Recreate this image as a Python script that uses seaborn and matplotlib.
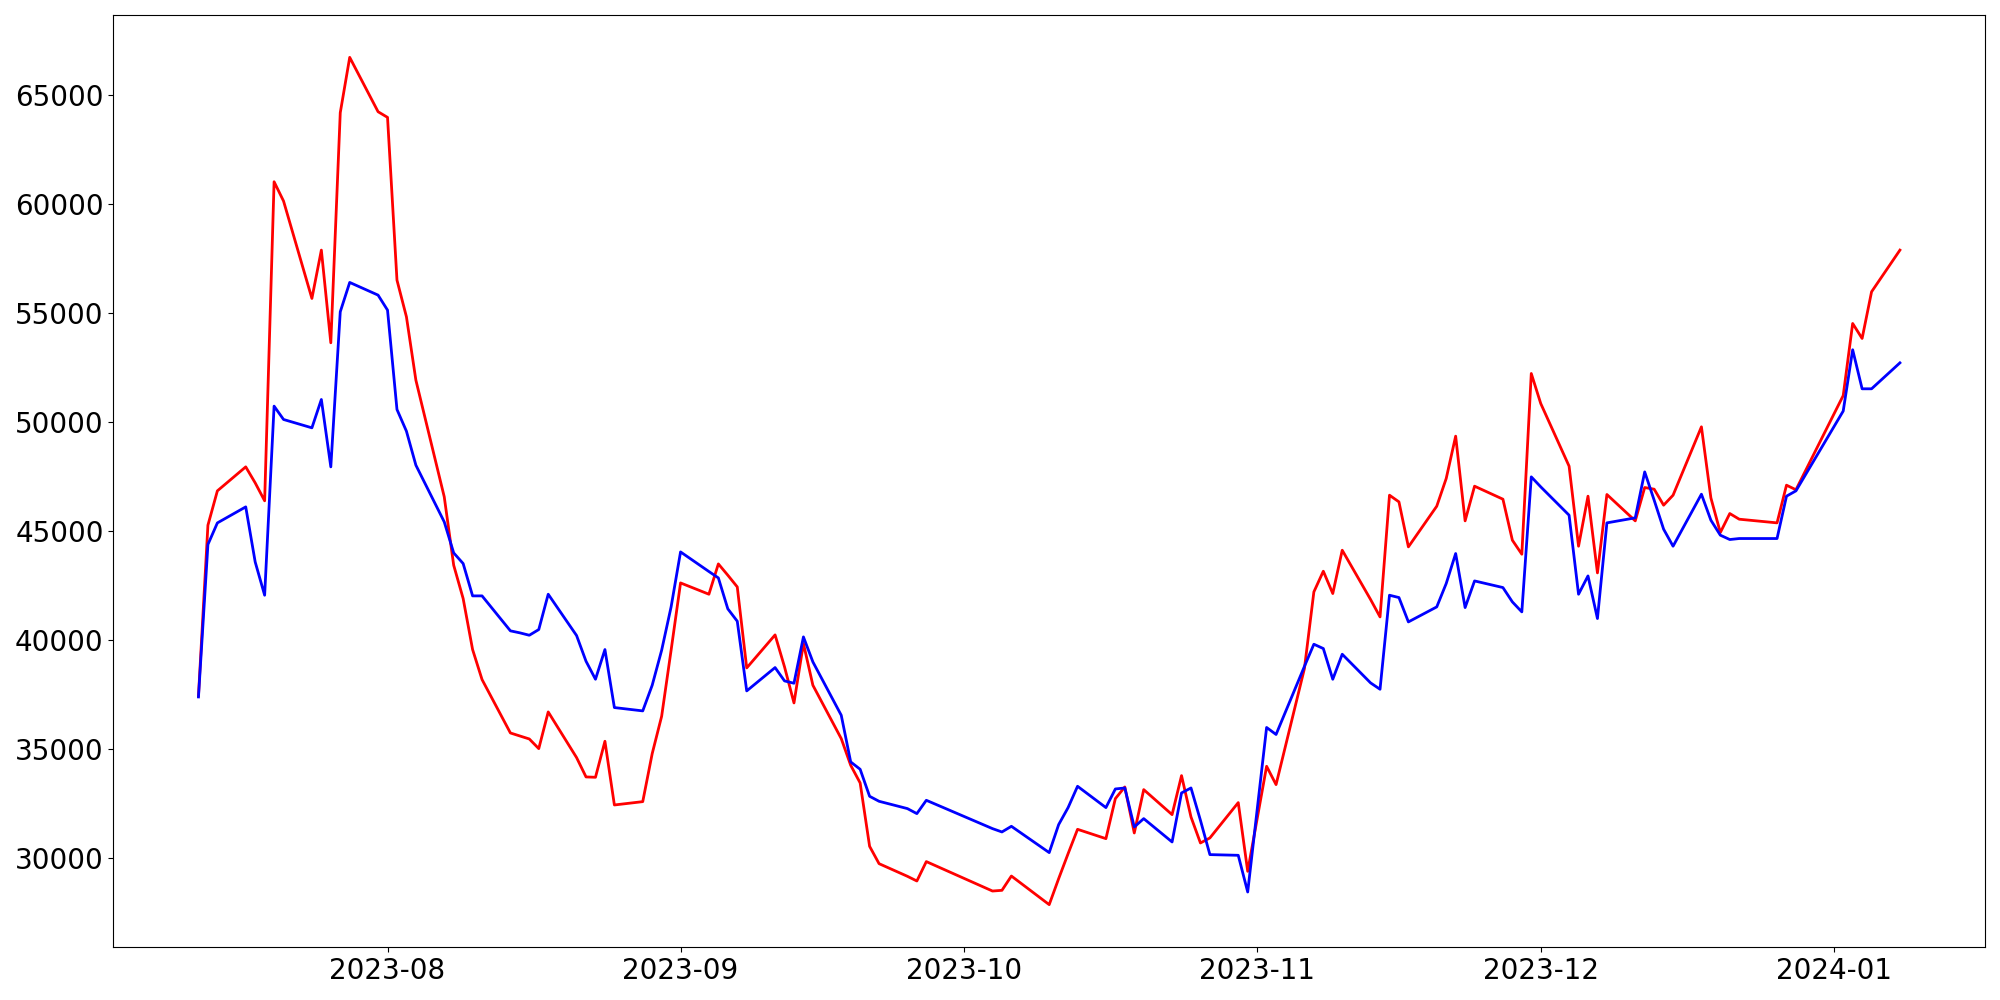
import matplotlib
matplotlib.use("Agg")
import matplotlib.pyplot as plt
import matplotlib.dates as mdates
import seaborn as sns
import pandas as pd

dates = [
    "2023-07-12", "2023-07-13", "2023-07-14", "2023-07-17", "2023-07-18", "2023-07-19",
    "2023-07-20", "2023-07-21", "2023-07-24", "2023-07-25", "2023-07-26", "2023-07-27",
    "2023-07-28", "2023-07-31", "2023-08-01", "2023-08-02", "2023-08-03", "2023-08-04",
    "2023-08-07", "2023-08-08", "2023-08-09", "2023-08-10", "2023-08-11", "2023-08-14",
    "2023-08-15", "2023-08-16", "2023-08-17", "2023-08-18", "2023-08-21", "2023-08-22",
    "2023-08-23", "2023-08-24", "2023-08-25", "2023-08-28", "2023-08-29", "2023-08-30",
    "2023-08-31", "2023-09-01", "2023-09-04", "2023-09-05", "2023-09-06", "2023-09-07",
    "2023-09-08", "2023-09-11", "2023-09-12", "2023-09-13", "2023-09-14", "2023-09-15",
    "2023-09-18", "2023-09-19", "2023-09-20", "2023-09-21", "2023-09-22", "2023-09-25",
    "2023-09-26", "2023-09-27", "2023-10-04", "2023-10-05", "2023-10-06", "2023-10-10",
    "2023-10-11", "2023-10-12", "2023-10-13", "2023-10-16", "2023-10-17", "2023-10-18",
    "2023-10-19", "2023-10-20", "2023-10-23", "2023-10-24", "2023-10-25", "2023-10-26",
    "2023-10-27", "2023-10-30", "2023-10-31", "2023-11-02", "2023-11-03", "2023-11-06",
    "2023-11-07", "2023-11-08", "2023-11-09", "2023-11-10", "2023-11-13", "2023-11-14",
    "2023-11-15", "2023-11-16", "2023-11-17", "2023-11-20", "2023-11-21", "2023-11-22",
    "2023-11-23", "2023-11-24", "2023-11-27", "2023-11-28", "2023-11-29", "2023-11-30",
    "2023-12-01", "2023-12-04", "2023-12-05", "2023-12-06", "2023-12-07", "2023-12-08",
    "2023-12-11", "2023-12-12", "2023-12-13", "2023-12-14", "2023-12-15", "2023-12-18",
    "2023-12-19", "2023-12-20", "2023-12-21", "2023-12-22", "2023-12-26", "2023-12-27",
    "2023-12-28", "2024-01-02", "2024-01-03", "2024-01-04", "2024-01-05", "2024-01-08",
]

red_values = [
    37450, 45275, 46850, 47950, 47216, 46394,
    61024, 60138, 55673, 57890, 53639, 64190,
    66728, 64235, 63976, 56514, 54832, 51927,
    46578, 43440, 41913, 39573, 38197, 35748,
    35610, 35473, 35030, 36713, 34619, 33732,
    33716, 35367, 32446, 32599, 34800, 36514,
    39541, 42628, 42110, 43500, 42982, 42445,
    38731, 40245, 38777, 37125, 39850, 37936,
    35490, 34266, 33456, 30550, 29755, 29175,
    28960, 29850, 28500, 28532, 29188, 27876,
    29067, 30214, 31330, 30902, 32738, 33272,
    31162, 33150, 32003, 33792, 31896, 30704,
    30934, 32555, 29404, 34220, 33379, 38700,
    42217, 43165, 42142, 44128, 41867, 41070,
    46651, 46345, 44281, 46147, 47416, 49358,
    45474, 47064, 46468, 44587, 43945, 52232,
    50856, 47982, 44312, 46606, 43088, 46683,
    45474, 47003, 46927, 46193, 46651, 49786,
    46529, 44939, 45810, 45550, 45382, 47110,
    46900, 51220, 54526, 53838, 55979, 57890,
]

blue_values = [
    37400, 44390, 45380, 46115, 43590, 42064,
    50734, 50123, 49740, 51040, 47950, 55061,
    56407, 55826, 55138, 50581, 49587, 48028,
    45428, 44005, 43517, 42034, 42034, 40431,
    40339, 40229, 40490, 42110, 40216, 39037,
    38211, 39573, 36913, 36760, 37936, 39541,
    41528, 44050, 43151, 42858, 41440, 40872,
    37677, 38747, 38135, 38028, 40153, 39006,
    36560, 34420, 34083, 32844, 32615, 32280,
    32050, 32661, 31362, 31209, 31468, 30262,
    31546, 32326, 33303, 32326, 33180, 33226,
    31437, 31820, 30750, 32998, 33226, 31743,
    30170, 30138, 28455, 36000, 35679, 38800,
    39817, 39619, 38211, 39358, 38044, 37752,
    42064, 41957, 40841, 41529, 42600, 43976,
    41498, 42720, 42416, 41758, 41300, 47492,
    47034, 45734, 42110, 42950, 40995, 45382,
    45612, 47719, 46422, 45092, 44312, 46697,
    45505, 44817, 44618, 44664, 44664, 46606,
    46850, 50510, 53320, 51530, 51530, 52720,
]

df = pd.DataFrame({
    "date": pd.to_datetime(dates),
    "red": red_values,
    "blue": blue_values,
})

fig, ax = plt.subplots(figsize=(20, 10), dpi=100)
sns.lineplot(data=df, x="date", y="red", color="red", linewidth=2, ax=ax)
sns.lineplot(data=df, x="date", y="blue", color="blue", linewidth=2, ax=ax)

ax.set_xlabel("")
ax.set_ylabel("")
ax.xaxis.set_major_locator(mdates.MonthLocator())
ax.xaxis.set_major_formatter(mdates.DateFormatter("%Y-%m"))
ax.tick_params(axis="both", labelsize=20)

fig.subplots_adjust(left=0.0567, right=0.9925, top=0.985, bottom=0.053)
fig.savefig("out.png", dpi=100)
